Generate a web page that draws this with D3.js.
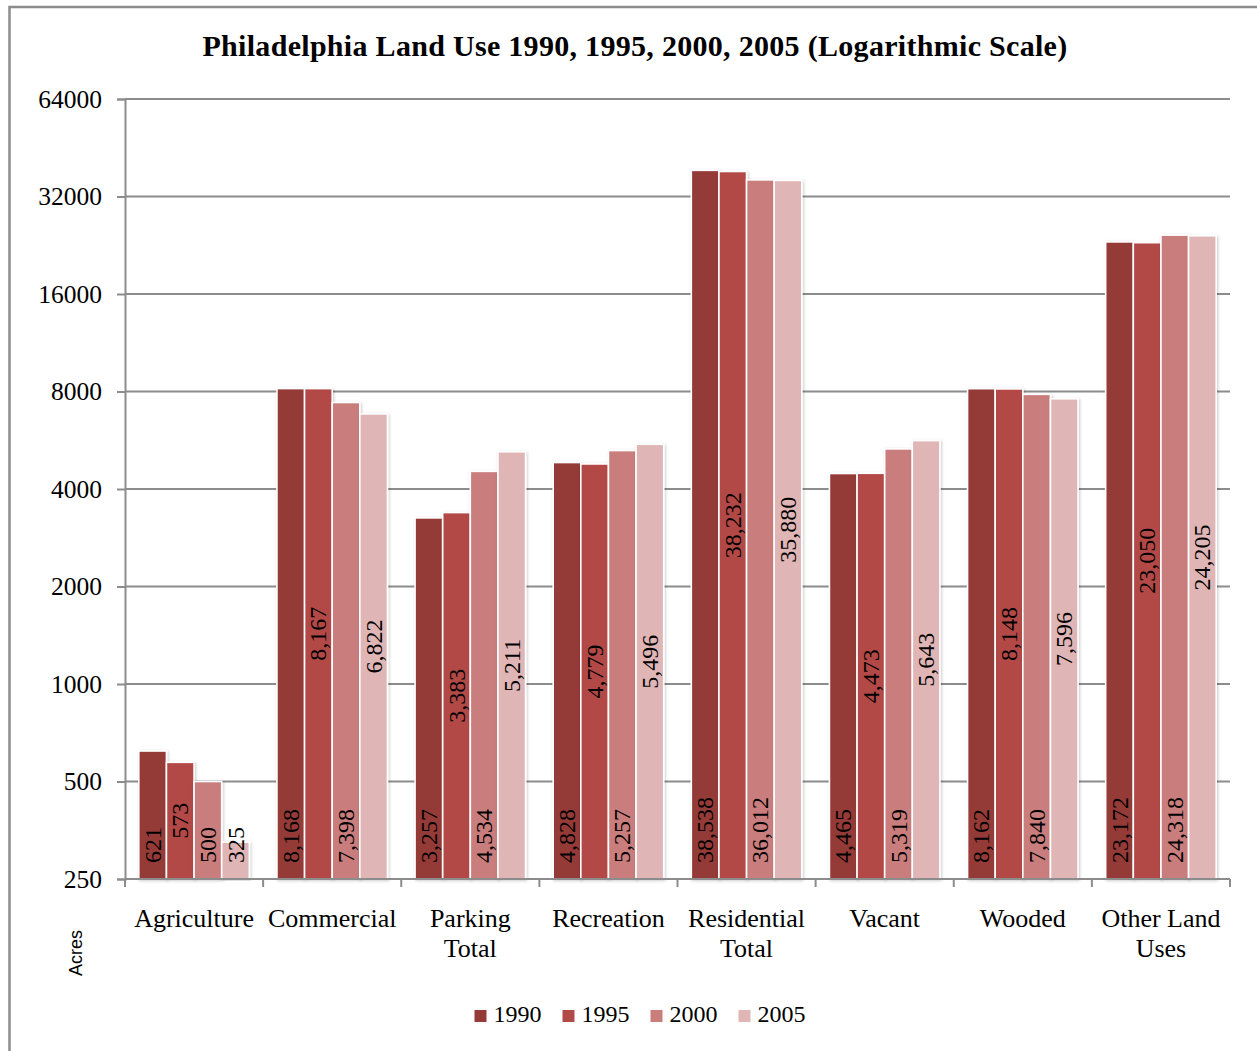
<!DOCTYPE html>
<html>
<head>
<meta charset="utf-8">
<script src="https://cdn.jsdelivr.net/npm/d3@7"></script>
<style>
  body { margin: 0; background: #fff; }
  svg { display: block; }
  text { font-family: "Liberation Serif", "DejaVu Serif", serif; fill: #000; }
</style>
</head>
<body>
<div id="wrapper"></div>
<script>
const categories = ["Agriculture", "Commercial", "Parking\nTotal", "Recreation",
  "Residential\nTotal", "Vacant", "Wooded", "Other Land\nUses"]
const years = ["1990", "1995", "2000", "2005"]
const values1990 = [621, 8168, 3257, 4828, 38538, 4465, 8162, 23172]
const values1995 = [573, 8167, 3383, 4779, 38232, 4473, 8148, 23050]
const values2000 = [500, 7398, 4534, 5257, 36012, 5319, 7840, 24318]
const values2005 = [325, 6822, 5211, 5496, 35880, 5643, 7596, 24205]
const yTicks = [250, 500, 1000, 2000, 4000, 8000, 16000, 32000, 64000]

const series = [values1990, values1995, values2000, values2005]
const colors = ["#943a38", "#b24a47", "#c97d7c", "#dfb5b5"]

const dimensions = {
  width: 1257,
  height: 1051,
  margin: { top: 99, right: 27, bottom: 172, left: 125 }
}
dimensions.boundedWidth = dimensions.width - dimensions.margin.left - dimensions.margin.right
dimensions.boundedHeight = dimensions.height - dimensions.margin.top - dimensions.margin.bottom

const wrapper = d3.select("#wrapper")
  .append("svg")
    .attr("width", dimensions.width)
    .attr("height", dimensions.height)

const defs = wrapper.append("defs")
defs.append("filter")
    .attr("id", "shadow")
    .attr("x", "-20%").attr("y", "-5%")
    .attr("width", "140%").attr("height", "110%")
  .append("feDropShadow")
    .attr("dx", 1).attr("dy", 1)
    .attr("stdDeviation", 1.6)
    .attr("flood-color", "#000")
    .attr("flood-opacity", 0.22)

// outer frame (only top and left edges are visible)
wrapper.append("path")
  .attr("d", `M9.5,${dimensions.height} V7 H${dimensions.width}`)
  .attr("fill", "none")
  .attr("stroke", "#8c8c8c")
  .attr("stroke-width", 2.5)

wrapper.append("text")
  .attr("x", 635)
  .attr("y", 56)
  .attr("text-anchor", "middle")
  .style("font-size", "30px")
  .style("letter-spacing", "0.3px")
  .style("font-weight", "bold")
  .text("Philadelphia Land Use 1990, 1995, 2000, 2005 (Logarithmic Scale)")

const bounds = wrapper.append("g")
  .attr("transform", `translate(${dimensions.margin.left}, ${dimensions.margin.top})`)

const yScale = d3.scaleLog()
  .base(2)
  .domain([250, 64000])
  .range([dimensions.boundedHeight, 0])

const xScale = d3.scaleBand()
  .domain(categories)
  .range([0, dimensions.boundedWidth])

const groupScale = d3.scaleBand()
  .domain(years)
  .range([0, xScale.bandwidth()])
  .paddingOuter(0.5)

// gridlines
bounds.append("g")
  .selectAll("line")
  .data(yTicks.slice(1))
  .enter().append("line")
    .attr("x1", 0)
    .attr("x2", dimensions.boundedWidth)
    .attr("y1", d => yScale(d))
    .attr("y2", d => yScale(d))
    .attr("stroke", "#8c8c8c")
    .attr("stroke-width", 2)

// y axis
const yAxisGenerator = d3.axisLeft(yScale)
  .tickValues(yTicks)
  .tickFormat(d3.format("d"))
  .tickSize(8)
  .tickPadding(15)

const yAxis = bounds.append("g").call(yAxisGenerator)
yAxis.select(".domain").attr("stroke", "#8c8c8c").attr("stroke-width", 2)
yAxis.selectAll(".tick line").attr("stroke", "#8c8c8c").attr("stroke-width", 2)
yAxis.selectAll(".tick text")
  .attr("font-family", null)
  .style("font-size", "25.5px")
  .attr("fill", "#000")

// bars
const rows = categories.map((c, i) => ({
  category: c,
  values: years.map((y, j) => ({ year: y, index: j, value: series[j][i] }))
}))

const groups = bounds.selectAll(".group")
  .data(rows)
  .enter().append("g")
    .attr("class", "group")
    .attr("transform", d => `translate(${xScale(d.category)}, 0)`)

groups.selectAll("rect")
  .data(d => d.values)
  .enter().append("rect")
    .attr("x", d => groupScale(d.year))
    .attr("y", d => yScale(d.value))
    .attr("width", groupScale.bandwidth())
    .attr("height", d => dimensions.boundedHeight - yScale(d.value))
    .attr("fill", d => colors[d.index])
    .attr("stroke", "#fff")
    .attr("stroke-width", 1.6)
    .attr("filter", "url(#shadow)")

// x axis line and category boundary ticks
bounds.append("line")
  .attr("x1", 0)
  .attr("x2", dimensions.boundedWidth)
  .attr("y1", dimensions.boundedHeight)
  .attr("y2", dimensions.boundedHeight)
  .attr("stroke", "#8c8c8c")
  .attr("stroke-width", 2)

const boundaries = categories.map(c => xScale(c)).concat([dimensions.boundedWidth])
bounds.append("g")
  .selectAll("line")
  .data(boundaries)
  .enter().append("line")
    .attr("x1", d => d)
    .attr("x2", d => d)
    .attr("y1", dimensions.boundedHeight)
    .attr("y2", dimensions.boundedHeight + 8)
    .attr("stroke", "#8c8c8c")
    .attr("stroke-width", 2)

// value labels: 1990/2000 sit at the base, 1995/2005 are centred
const baseOffset = 16
groups.selectAll(".value-label")
  .data(d => d.values)
  .enter().append("text")
    .attr("class", "value-label")
    .style("font-size", "24px")
    .attr("dominant-baseline", "central")
    .text(d => d3.format(",")(d.value))
    .each(function(d) {
      const len = this.getComputedTextLength()
      const cx = groupScale(d.year) + groupScale.bandwidth() / 2
      const base = dimensions.boundedHeight
      let start
      if (d.index % 2 === 0) {
        start = base - baseOffset
      } else {
        const mid = (base + yScale(d.value)) / 2
        start = Math.min(mid + len / 2, base - baseOffset)
      }
      d3.select(this)
        .attr("text-anchor", "start")
        .attr("transform", `translate(${cx}, ${start}) rotate(-90)`)
    })

// category labels
const catLabels = bounds.append("g")
  .selectAll("text")
  .data(categories)
  .enter().append("text")
    .attr("text-anchor", "middle")
    .style("font-size", "26px")
    .attr("transform", d => `translate(${xScale(d) + xScale.bandwidth() / 2}, ${dimensions.boundedHeight + 48})`)

catLabels.selectAll("tspan")
  .data(d => d.split("\n"))
  .enter().append("tspan")
    .attr("x", 0)
    .attr("y", (d, i) => i * 30)
    .text(d => d)

// axis title
wrapper.append("text")
  .attr("transform", "translate(82, 953) rotate(-90)")
  .attr("text-anchor", "middle")
  .style("font-family", "'Liberation Sans', Arial, sans-serif")
  .style("font-size", "18px")
  .attr("fill", "#222")
  .text("Acres")

// legend
const legend = wrapper.append("g")
let offset = 0
years.forEach((y, i) => {
  const item = legend.append("g").attr("transform", `translate(${offset}, 0)`)
  item.append("rect")
    .attr("x", 0)
    .attr("y", -12)
    .attr("width", 12)
    .attr("height", 12)
    .attr("fill", colors[i])
  const t = item.append("text")
    .attr("x", 19)
    .attr("y", 0)
    .style("font-size", "24px")
    .text(y)
  offset += 19 + t.node().getComputedTextLength() + 21
})
const legendWidth = offset - 21
legend.attr("transform", `translate(${640 - legendWidth / 2}, 1022)`)
</script>
</body>
</html>
